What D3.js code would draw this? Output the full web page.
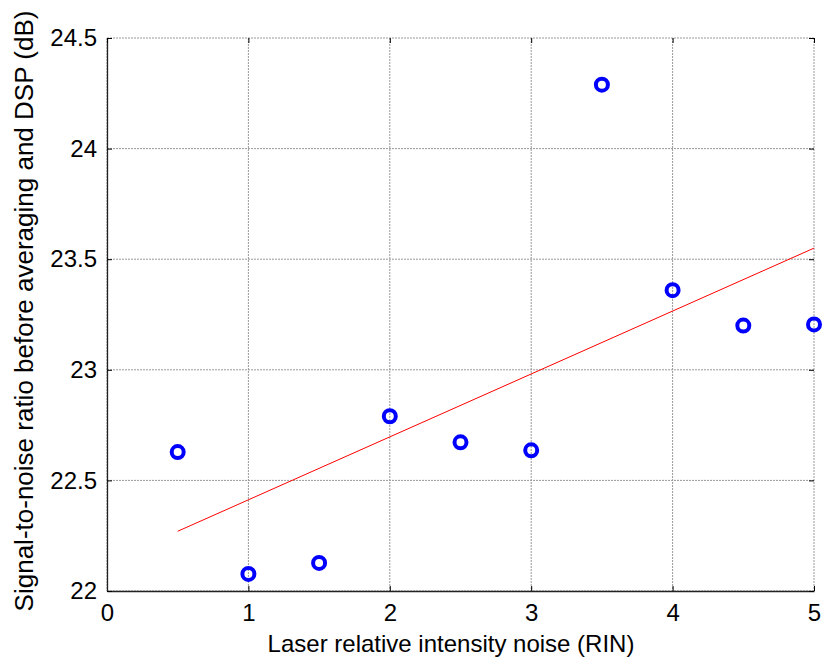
<!DOCTYPE html>
<html><head><meta charset="utf-8">
<script src="https://cdn.jsdelivr.net/npm/d3@7"></script>
<style>body{margin:0;background:#fff}svg{display:block}text{font-family:Arial,"Liberation Sans",sans-serif}</style>
</head><body><svg id="c" width="822" height="657"></svg>
<script>
const rin = [0.5, 1, 1.5, 2, 2.5, 3, 3.5, 4, 4.5, 5];
const snr = [22.628, 22.077, 22.127, 22.79, 22.672, 22.636, 24.289, 23.36, 23.20, 23.205];
const fitX = [0.5, 5];
const fitY = [22.27, 23.55];
const xTicks = [0, 1, 2, 3, 4, 5];
const yTicks = [22, 22.5, 23, 23.5, 24, 24.5];
const xLabel = "Laser relative intensity noise (RIN)";
const yLabel = "Signal-to-noise ratio before averaging and DSP (dB)";

const L = 107, R = 814, T = 38, B = 591;
const svg = d3.select("#c");
const x = d3.scaleLinear().domain([0, 5]).range([L, R]);
const y = d3.scaleLinear().domain([22, 24.5]).range([B, T]);

// grid
const g = svg.append("g");
g.selectAll(".gx").data(xTicks).join("line")
  .attr("x1", d => x(d)).attr("x2", d => x(d)).attr("y1", T).attr("y2", B)
  .attr("stroke", "#999").attr("stroke-width", 1).attr("stroke-dasharray", "2,1");
g.selectAll(".gy").data(yTicks).join("line")
  .attr("y1", d => y(d)).attr("y2", d => y(d)).attr("x1", L).attr("x2", R)
  .attr("stroke", "#999").attr("stroke-width", 1).attr("stroke-dasharray", "2,1");

// axes
const ax = svg.append("g").attr("transform", `translate(0,${B})`)
  .call(d3.axisBottom(x).tickValues(xTicks).tickFormat(d3.format("d")).tickSizeInner(-5).tickSizeOuter(0).tickPadding(13));
const ay = svg.append("g").attr("transform", `translate(${L},0)`)
  .call(d3.axisLeft(y).tickValues(yTicks).tickFormat(d => String(d)).tickSizeInner(-5).tickSizeOuter(0).tickPadding(10));
const at = svg.append("g").attr("transform", `translate(0,${T})`)
  .call(d3.axisTop(x).tickValues(xTicks).tickFormat("").tickSizeInner(-5).tickSizeOuter(0));
const ar = svg.append("g").attr("transform", `translate(${R},0)`)
  .call(d3.axisRight(y).tickValues(yTicks).tickFormat("").tickSizeInner(-5).tickSizeOuter(0));
[at, ar].forEach(a => a.select(".domain").remove());
[ax, ay, at, ar].forEach(a => {
  a.selectAll("line").attr("stroke", "#000");
  a.select(".domain").attr("stroke", "#222").attr("stroke-width", 1.3);
  a.selectAll("text").attr("font-size", 24).attr("fill", "#000")
    .style("font-family", "Arial, 'Liberation Sans', sans-serif");
});

// fit line
svg.append("path").datum(fitX.map((d, i) => [d, fitY[i]]))
  .attr("d", d3.line().x(d => x(d[0])).y(d => y(d[1])))
  .attr("stroke", "#ff0000").attr("stroke-width", 1).attr("fill", "none");

// points
svg.selectAll(".pt").data(rin).join("circle")
  .attr("cx", d => x(d)).attr("cy", (d, i) => y(snr[i])).attr("r", 6)
  .attr("fill", "none").attr("stroke", "#0000ff").attr("stroke-width", 4);

// labels
svg.append("text").attr("x", 451).attr("y", 652).attr("text-anchor", "middle")
  .attr("font-size", 24).text(xLabel);
svg.append("text").attr("transform", `translate(33,311) rotate(-90)`)
  .attr("text-anchor", "middle").attr("font-size", 26).text(yLabel);
</script></body></html>
